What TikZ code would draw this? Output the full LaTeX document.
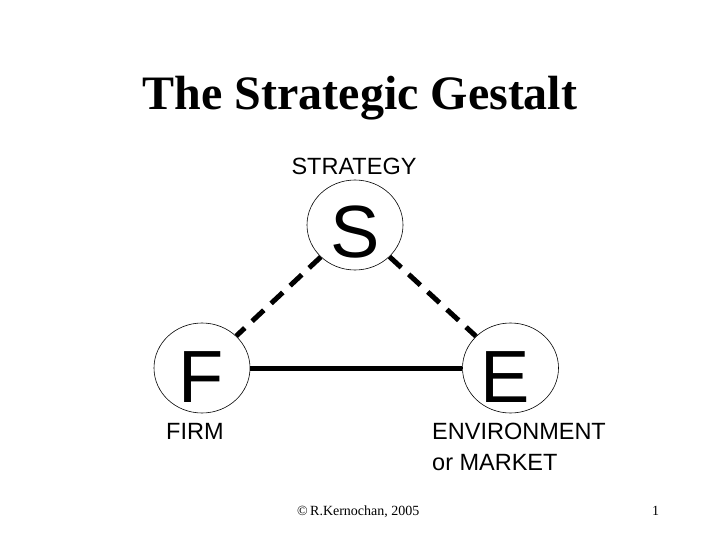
\documentclass[tikz,border=0pt]{standalone}
\usepackage{fontspec}
\setmainfont{Liberation Serif}
\newfontfamily\arialf{Liberation Sans}
\usetikzlibrary{shapes.geometric}
\tikzset{
  ring/.style={draw, ellipse, line width=0.6pt, minimum width=96pt, minimum height=90pt, inner sep=0pt},
  bigletter/.style={font=\arialf\fontsize{74}{74}\selectfont, anchor=base, inner sep=0pt},
  lbl/.style={font=\arialf\fontsize{23.5}{26}\selectfont, inner sep=0pt},
  dashlink/.style={line width=5pt, dash pattern=on 16pt off 10pt},
  solidlink/.style={line width=5pt},
}
\begin{document}
\begin{tikzpicture}[x=1pt,y=-1pt]
\useasboundingbox (0,0) rectangle (720,540);
\node[font=\bfseries\fontsize{48}{48}\selectfont, anchor=base, inner sep=0pt] (title) at (360,110) {The Strategic Gestalt};
\node[lbl, anchor=base] (strat) at (354,175) {STRATEGY};
\node[ring] (S) at (355,225) {};
\node[ring] (F) at (202,368) {};
\node[ring] (E) at (510.5,368) {};
\node[bigletter] (sl) at (355,258) {S};
\node[bigletter] (fl) at (201,402) {F};
\node[bigletter] (el) at (505,402) {E};
\draw[dashlink] (S) -- (F);
\draw[dashlink] (S) -- (E);
\draw[solidlink] (F) -- (E);
\node[lbl, anchor=base west] (firm) at (166,439) {FIRM};
\node[lbl, anchor=base west] (env) at (432,439) {ENVIRONMENT};
\node[lbl, anchor=base west] (mkt) at (432,470) {or MARKET};
\node[font=\fontsize{14}{14}\selectfont, anchor=base west, inner sep=0pt] (copy) at (297,515) {\textcopyright\,R.Kernochan, 2005};
\node[font=\fontsize{14}{14}\selectfont, anchor=base west, inner sep=0pt] (page) at (652,515) {1};
\end{tikzpicture}
\end{document}
